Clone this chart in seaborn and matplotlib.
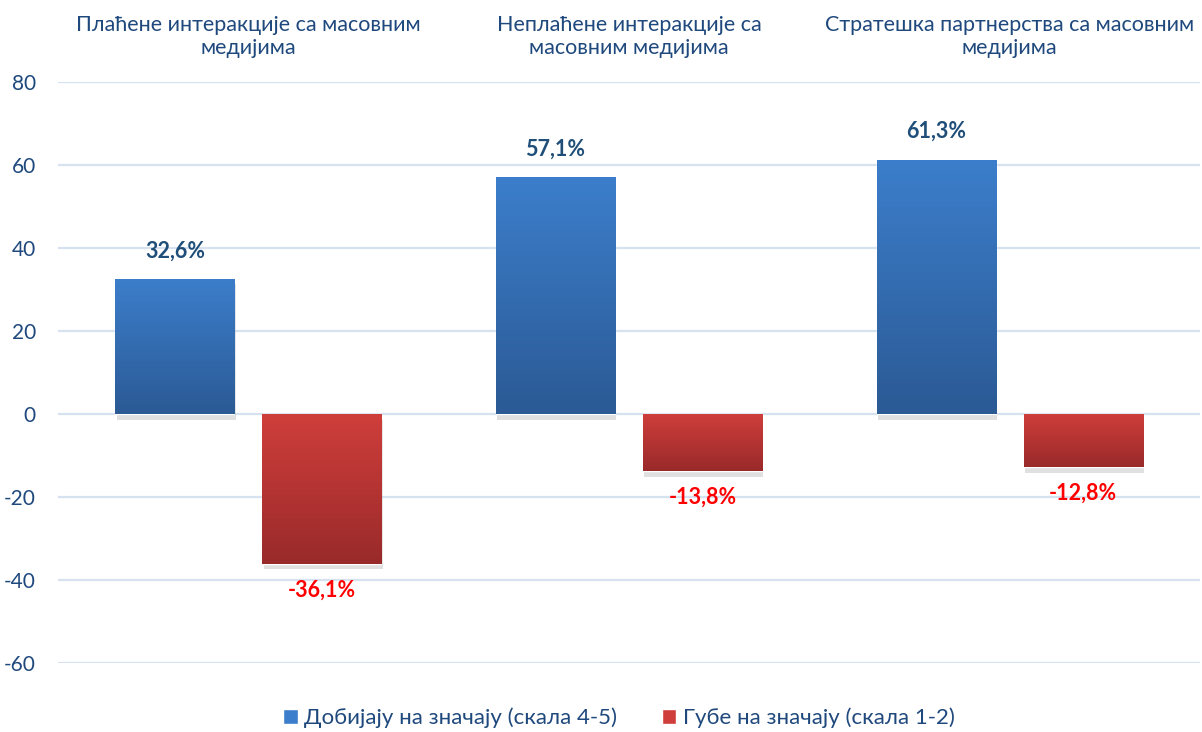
import numpy as np
import pandas as pd
import matplotlib
matplotlib.use('Agg')
import matplotlib.pyplot as plt
import matplotlib.patheffects as pe
from matplotlib.patches import Patch
import seaborn as sns

# données
categories = ['Плаћене интеракције са масовним\nмедијима',
              'Неплаћене интеракције са\nмасовним медијима',
              'Стратешка партнерства са масовним\nмедијима']
serie_gain = [32.6, 57.1, 61.3]
serie_perte = [-36.1, -13.8, -12.8]
noms_series = ['Добијају на значају (скала 4-5)', 'Губе на значају (скала 1-2)']
yticks = [-60, -40, -20, 0, 20, 40, 60, 80]

df = pd.DataFrame({
    'categorie': categories * 2,
    'valeur': serie_gain + serie_perte,
    'serie': [noms_series[0]] * 3 + [noms_series[1]] * 3,
})

sns.set_style('white')
plt.rcParams['font.family'] = ['Lato', 'DejaVu Sans']
plt.rcParams['axes.unicode_minus'] = False

texte = '#1F497D'
bleu_haut, bleu_bas = '#3C7ECB', '#2B5A95'
rouge_haut, rouge_bas = '#CF3E3B', '#992A2A'

fig = plt.figure(figsize=(12.02, 7.32), dpi=100)
ax = fig.add_axes([58 / 1202, 1 - 663 / 732, 1142 / 1202, 581 / 732])

sns.barplot(data=df, x='categorie', y='valeur', hue='serie', order=categories,
            hue_order=noms_series, palette=[bleu_haut, rouge_haut], saturation=1,
            width=0.772, gap=0.19, ax=ax, legend=False, errorbar=None)

ax.set_ylim(-60, 80)
ax.set_yticks(yticks)
ax.yaxis.grid(True, color='#D6E2F0', linewidth=1.6)
ax.set_axisbelow(True)
for s in ax.spines.values():
    s.set_visible(False)

# dégradé + ombre
degrade = {bleu_haut.lower(): (bleu_haut, bleu_bas), rouge_haut.lower(): (rouge_haut, rouge_bas)}
for bar in list(ax.patches):
    h = bar.get_height()
    if h == 0:
        continue
    fc = matplotlib.colors.to_hex(bar.get_facecolor())
    c1, c2 = degrade.get(fc, (fc, fc))
    bar.set_path_effects([pe.SimplePatchShadow(offset=(1, -4), shadow_rgbFace='#000000', alpha=0.12), pe.Normal()])
    x0, w = bar.get_x(), bar.get_width()
    y0, y1 = min(0, h), max(0, h)
    cmap = matplotlib.colors.LinearSegmentedColormap.from_list('g', [c2, c1])
    grad = np.linspace(0, 1, 256).reshape(-1, 1)
    im = ax.imshow(grad, extent=(x0, x0 + w, y0, y1), origin='lower', cmap=cmap,
                   aspect='auto', zorder=bar.get_zorder() + 0.1, interpolation='bilinear')
    im.set_clip_path(bar)
    # étiquettes
    lab = f'{abs(h):.1f}'.replace('.', ',') + '%'
    if h >= 0:
        ax.text(x0 + w / 2, h + 4.2, lab, ha='center', va='bottom', fontsize=15.5,
                fontweight='bold', color='#1F4E79')
    else:
        ax.text(x0 + w / 2, h - 3.8, '-' + lab, ha='center', va='top', fontsize=15.5,
                fontweight='bold', color='#FF0000')

ax.set_xlim(-0.5, 2.5)

# catégories en haut
ax.xaxis.tick_top()
ax.tick_params(axis='x', length=0, pad=17, labelsize=15.5, labelcolor=texte)
ax.tick_params(axis='y', length=0, pad=16, labelsize=15, labelcolor=texte)
ax.set_xlabel('')
ax.set_ylabel('')

poignees = [Patch(facecolor=bleu_haut), Patch(facecolor=rouge_haut)]
leg = fig.legend(poignees, noms_series, loc='center', bbox_to_anchor=(0.515, 1 - 718 / 732),
                 ncol=2, frameon=False, fontsize=16, handlelength=0.65, handleheight=0.65,
                 handletextpad=0.3, columnspacing=2.0)
for t in leg.get_texts():
    t.set_color(texte)

plt.savefig('out.png', dpi=100)
plt.close()
